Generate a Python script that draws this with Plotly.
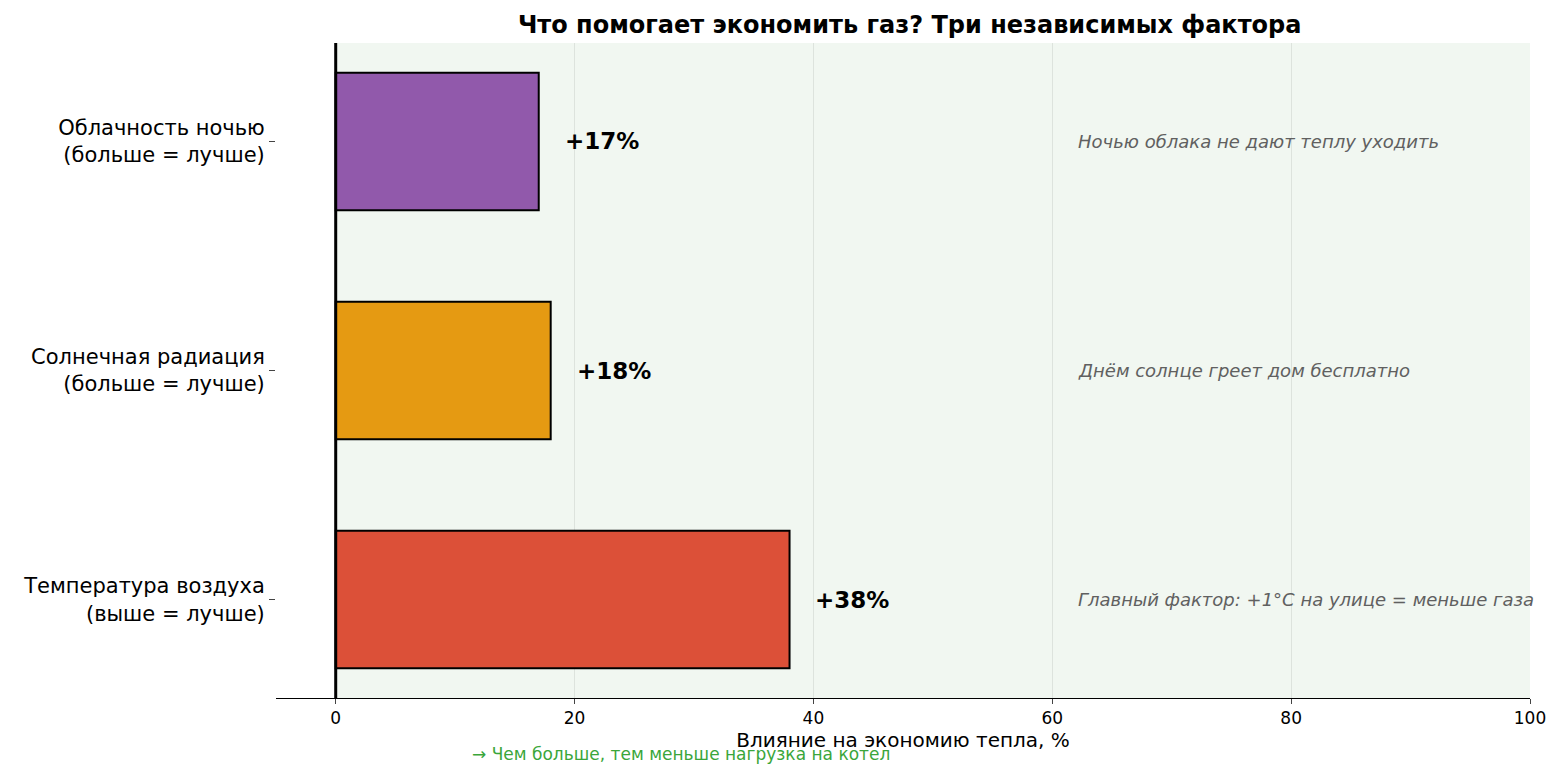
import plotly.graph_objects as go

categories = ["Температура воздуха<br>(выше = лучше)", "Солнечная радиация<br>(больше = лучше)", "Облачность ночью<br>(больше = лучше)"]
values = [38, 18, 17]
colors = ["#dc5038", "#e59a12", "#9159ab"]
notes = ["Главный фактор: +1°C на улице = меньше газа", "Днём солнце греет дом бесплатно", "Ночью облака не дают теплу уходить"]
xticks = [0, 20, 40, 60, 80, 100]

fig = go.Figure()
fig.add_shape(type="rect", xref="x", yref="paper", x0=0, x1=100, y0=0, y1=1,
              fillcolor="#f1f7f1", line_width=0, layer="below")
fig.add_trace(go.Bar(y=list(range(3)), x=values, orientation="h", width=0.6,
                     marker=dict(color=colors, line=dict(color="black", width=2))))
for i, (v, n) in enumerate(zip(values, notes)):
    fig.add_annotation(x=v + 2, y=i, text="<b>+%d%%</b>" % v, showarrow=False, xanchor="left",
                       font=dict(size=23, color="black"))
    fig.add_annotation(x=62, y=i, text="<i>%s</i>" % n, showarrow=False, xanchor="left",
                       font=dict(size=18, color="#606060"))
fig.add_shape(type="line", xref="x", yref="paper", x0=0, x1=0, y0=0, y1=1, line=dict(color="black", width=3))
fig.add_annotation(xref="paper", yref="paper", x=0.155, y=-0.085, xanchor="left", yanchor="middle",
                   text="→ Чем больше, тем меньше нагрузка на котел", showarrow=False,
                   font=dict(size=17, color="#3aa63a"))
fig.update_layout(
    width=1560, height=777, plot_bgcolor="white", paper_bgcolor="white", showlegend=False,
    margin=dict(l=268, r=38, t=35, b=87),
    font=dict(family="DejaVu Sans", color="black"),
    title=dict(text="<b>Что помогает экономить газ? Три независимых фактора</b>", x=0.578, xanchor="center",
               y=0.978, yanchor="middle", font=dict(size=24)),
    xaxis=dict(range=[-5, 100], tickvals=xticks, showgrid=True, gridcolor="#dde3dd", zeroline=False,
               showline=True, linecolor="black", ticks="outside", ticklen=5, tickfont=dict(size=17),
               title=dict(text="Влияние на экономию тепла, %", font=dict(size=20), standoff=3)),
    yaxis=dict(range=[-0.43, 2.43], tickvals=list(range(3)), ticktext=categories, showgrid=False,
               zeroline=False, ticks="outside", ticklen=6, tickfont=dict(size=21)),
)
fig.write_html("out.html")
